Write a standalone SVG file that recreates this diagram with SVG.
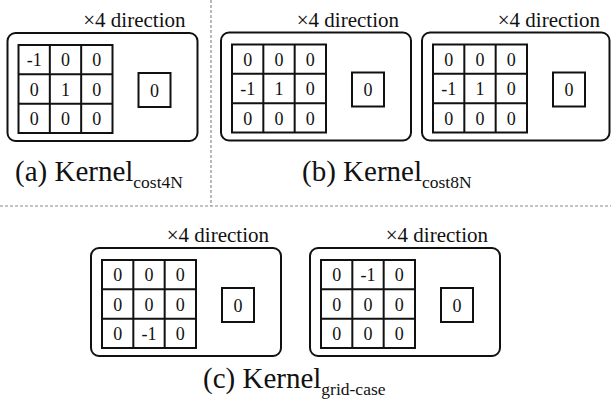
<svg xmlns="http://www.w3.org/2000/svg" width="611" height="402" viewBox="0 0 611 402">
  <style>
    text { font-family: "Liberation Serif", "Times New Roman", serif; fill: #111; }
    .frame { fill: none; stroke: #111; stroke-width: 2; }
    .grid { fill: none; stroke: #111; stroke-width: 2; }
    .cell { font-size: 18px; text-anchor: middle; }
    .dir { font-size: 21px; text-anchor: end; }
    .cap { font-size: 29px; }
    .sub { font-size: 17.5px; }
    .sep { stroke: #8a8a8a; stroke-width: 1.2; stroke-dasharray: 3 2; fill: none; }
  </style>
  <defs>
    <!-- 3x3 kernel grid lines -->
    <g id="grid3">
      <rect class="grid" x="11" y="12" width="94" height="88"/>
      <path class="grid" d="M42.33 12V100M73.67 12V100M11 41.33H105M11 70.67H105"/>
    </g>
    <!-- single output cell holding 0 -->
    <g id="outcell">
      <rect class="grid" x="131" y="40" width="32" height="34"/>
      <text class="cell" x="147" y="63.5">0</text>
    </g>
  </defs>

  <!-- dashed separators between the panels -->
  <g id="separators">
    <line class="sep" x1="211" y1="0" x2="211" y2="206"/>
    <line class="sep" x1="0" y1="206" x2="611" y2="206"/>
  </g>

  <!-- (a) cost4N kernel -->
  <g id="kernel-a" transform="translate(7.5,33)">
    <rect class="frame" x="0" y="0" width="190" height="108" rx="8"/>
    <use href="#grid3"/>
    <text class="cell" x="26.67" y="33">-1</text><text class="cell" x="58" y="33">0</text><text class="cell" x="89.33" y="33">0</text>
    <text class="cell" x="26.67" y="62.5">0</text><text class="cell" x="58" y="62.5">1</text><text class="cell" x="89.33" y="62.5">0</text>
    <text class="cell" x="26.67" y="92">0</text><text class="cell" x="58" y="92">0</text><text class="cell" x="89.33" y="92">0</text>
    <use href="#outcell"/>
    <text class="dir" x="178" y="-6">×4 direction</text>
  </g>

  <!-- (b) cost8N kernels -->
  <g id="kernel-b1" transform="translate(221,32.5)">
    <rect class="frame" x="0" y="0" width="190" height="108" rx="8"/>
    <use href="#grid3"/>
    <text class="cell" x="26.67" y="33">0</text><text class="cell" x="58" y="33">0</text><text class="cell" x="89.33" y="33">0</text>
    <text class="cell" x="26.67" y="62.5">-1</text><text class="cell" x="58" y="62.5">1</text><text class="cell" x="89.33" y="62.5">0</text>
    <text class="cell" x="26.67" y="92">0</text><text class="cell" x="58" y="92">0</text><text class="cell" x="89.33" y="92">0</text>
    <use href="#outcell"/>
    <text class="dir" x="178" y="-6">×4 direction</text>
  </g>

  <g id="kernel-b2" transform="translate(422,32.5)">
    <rect class="frame" x="0" y="0" width="187.5" height="108" rx="8"/>
    <use href="#grid3"/>
    <text class="cell" x="26.67" y="33">0</text><text class="cell" x="58" y="33">0</text><text class="cell" x="89.33" y="33">0</text>
    <text class="cell" x="26.67" y="62.5">-1</text><text class="cell" x="58" y="62.5">1</text><text class="cell" x="89.33" y="62.5">0</text>
    <text class="cell" x="26.67" y="92">0</text><text class="cell" x="58" y="92">0</text><text class="cell" x="89.33" y="92">0</text>
    <use href="#outcell"/>
    <text class="dir" x="178" y="-6">×4 direction</text>
  </g>

  <!-- (c) grid-case kernels -->
  <g id="kernel-c1" transform="translate(91,248)">
    <rect class="frame" x="0" y="0" width="190" height="108" rx="8"/>
    <use href="#grid3"/>
    <text class="cell" x="26.67" y="33">0</text><text class="cell" x="58" y="33">0</text><text class="cell" x="89.33" y="33">0</text>
    <text class="cell" x="26.67" y="62.5">0</text><text class="cell" x="58" y="62.5">0</text><text class="cell" x="89.33" y="62.5">0</text>
    <text class="cell" x="26.67" y="92">0</text><text class="cell" x="58" y="92">-1</text><text class="cell" x="89.33" y="92">0</text>
    <use href="#outcell"/>
    <text class="dir" x="178" y="-6">×4 direction</text>
  </g>

  <g id="kernel-c2" transform="translate(310,248)">
    <rect class="frame" x="0" y="0" width="190" height="108" rx="8"/>
    <use href="#grid3"/>
    <text class="cell" x="26.67" y="33">0</text><text class="cell" x="58" y="33">-1</text><text class="cell" x="89.33" y="33">0</text>
    <text class="cell" x="26.67" y="62.5">0</text><text class="cell" x="58" y="62.5">0</text><text class="cell" x="89.33" y="62.5">0</text>
    <text class="cell" x="26.67" y="92">0</text><text class="cell" x="58" y="92">0</text><text class="cell" x="89.33" y="92">0</text>
    <use href="#outcell"/>
    <text class="dir" x="178" y="-6">×4 direction</text>
  </g>

  <!-- panel captions -->
  <g id="captions">
    <text class="cap" x="15" y="181">(a) Kernel<tspan class="sub" dy="7">cost4N</tspan></text>
    <text class="cap" x="302" y="181">(b) Kernel<tspan class="sub" dy="7">cost8N</tspan></text>
    <text class="cap" x="203" y="388">(c) Kernel<tspan class="sub" dy="7">grid-case</tspan></text>
  </g>
</svg>
